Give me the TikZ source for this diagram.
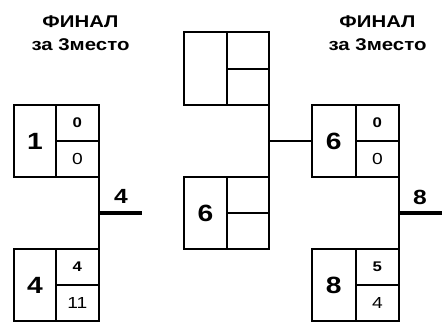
\documentclass[tikz,border=0pt]{standalone}
\usepackage{fontspec}
\setmainfont{Liberation Sans}[FakeStretch=1.2]
\begin{document}
\begin{tikzpicture}[x=1pt,y=-1pt,
  cell/.style={draw, line width=2pt, inner sep=0pt, outer sep=0pt, anchor=north west},
  seed/.style={cell, minimum height=72pt, font=\bfseries\fontsize{23.5}{23.5}\selectfont},
  sctop/.style={cell, minimum width=43.3pt, minimum height=36pt, font=\bfseries\fontsize{14}{14}\selectfont},
  scbot/.style={cell, minimum width=43.3pt, minimum height=36pt, font=\fontsize{16}{16}\selectfont},
  wire/.style={line width=2pt},
  win/.style={line width=3.3pt},
  title/.style={anchor=base, font=\bfseries\fontsize{17}{17}\selectfont},
  wlabel/.style={font=\bfseries\fontsize{20.5}{20.5}\selectfont}]
\useasboundingbox (0,0) rectangle (446,327);

% titles
\node[title] (tl1) at (80.5,27.7) {ФИНАЛ};
\node[title] (tl2) at (80.5,50) {за 3место};
\node[title] (tr1) at (377.5,27.7) {ФИНАЛ};
\node[title] (tr2) at (377.5,50) {за 3место};

% left match
\node[seed, minimum width=41.7pt] (a1n) at (14,105) {1};
\node[sctop] (a1t) at (55.7,105) {0};
\node[scbot] (a1b) at (55.7,141) {0};
\node[seed, minimum width=41.7pt] (a4n) at (14,249) {4};
\node[sctop] (a4t) at (55.7,249) {4};
\node[scbot] (a4b) at (55.7,285) {11};
\draw[wire] (a1b.south east) -- (a4t.north east) coordinate[pos=0.5] (aj);
\coordinate (ae) at (142,213);
\draw[win] (aj) -- (ae);
\node[wlabel] (al) at (121,196) {4};

% middle
\node[seed, minimum width=42.7pt, minimum height=73pt] (m1n) at (184,32) {};
\node[sctop, minimum width=42.3pt, minimum height=36.5pt] (m1t) at (226.7,32) {};
\node[scbot, minimum width=42.3pt, minimum height=36.5pt] (m1b) at (226.7,68.5) {};
\node[seed, minimum width=42.7pt] (m2n) at (184,177) {6};
\node[sctop, minimum width=42.3pt] (m2t) at (226.7,177) {};
\node[scbot, minimum width=42.3pt] (m2b) at (226.7,213) {};
\draw[wire] (m1b.south east) -- (m2t.north east) coordinate[pos=0.5] (mj);

% right match
\node[seed, minimum width=44pt] (r1n) at (311.7,105) {6};
\node[sctop] (r1t) at (355.7,105) {0};
\node[scbot] (r1b) at (355.7,141) {0};
\node[seed, minimum width=44pt] (r2n) at (311.7,249) {8};
\node[sctop] (r2t) at (355.7,249) {5};
\node[scbot] (r2b) at (355.7,285) {4};
\draw[wire] (mj) -- (r1n.west);
\draw[wire] (r1b.south east) -- (r2t.north east) coordinate[pos=0.5] (rj);
\coordinate (re) at (441.7,213);
\draw[win] (rj) -- (re);
\node[wlabel] (rl) at (420,197) {8};
\end{tikzpicture}
\end{document}
